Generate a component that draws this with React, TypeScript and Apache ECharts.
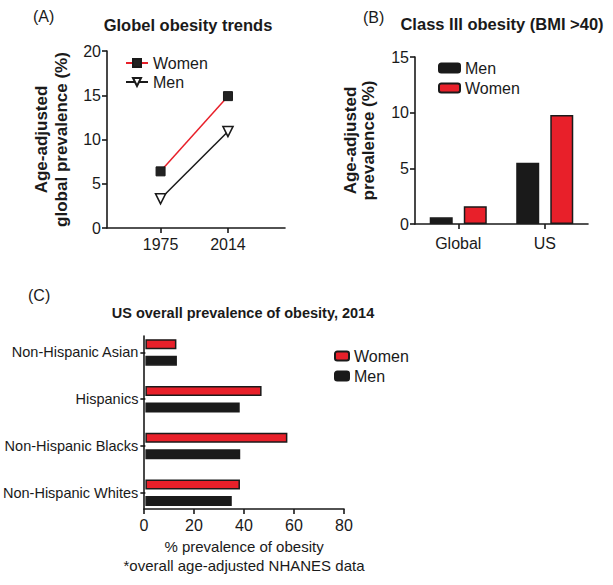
import React, { useEffect, useRef } from "react";
import * as echarts from "echarts";

// Panel A: global obesity trends
const yearsA = [1975, 2014];
const womenA = [6.4, 14.9];
const menA = [3.3, 10.9];
const ticksA = [1975, 2014];

// Panel B: class III obesity
const categoriesB = ["Global", "US"];
const menB = [0.6, 5.5];
const womenB = [1.6, 9.8];

// Panel C: US prevalence 2014
const categoriesC = ["Non-Hispanic Asian", "Hispanics", "Non-Hispanic Blacks", "Non-Hispanic Whites"];
const womenC = [12.5, 46.8, 57.2, 38.1];
const menC = [12.7, 38.0, 38.2, 34.8];

const RED = "#e8202a";
const INK = "#1a1a1a";
const FONT = "'Liberation Sans', Arial, Helvetica, sans-serif";

const axisLine = { show: true, lineStyle: { color: INK, width: 1.6 } };
const axisTick = { show: true, length: 5, lineStyle: { color: INK, width: 1.6 } };
const axisLabel = { color: INK, fontSize: 16, fontFamily: FONT, margin: 6 };

export default function App() {
  const ref = useRef<HTMLDivElement>(null);
  useEffect(() => {
    document.body.style.margin = "0";
    const chart = echarts.init(ref.current!, null, { renderer: "svg" });
    const fmt = (n: string) => n.split("|")[0];
    chart.setOption({
      animation: false,
      backgroundColor: "#fff",
      textStyle: { fontFamily: FONT },
      grid: [
        { left: 107, top: 51, width: 178, height: 177 },
        { left: 415, top: 57, width: 173, height: 167 },
        { left: 144, top: 329, width: 200, height: 187 },
        { left: 144, top: 336, width: 200, height: 173 },
      ],
      xAxis: [
        {
          gridIndex: 0, type: "value", min: 1944, max: 2047,
          axisLine, axisTick: { ...axisTick, customValues: ticksA },
          axisLabel: { ...axisLabel, margin: 8, customValues: ticksA, formatter: (v: number) => String(v) },
          splitLine: { show: false },
        },
        {
          gridIndex: 1, type: "category", data: categoriesB,
          axisLine, axisTick: { ...axisTick, alignWithLabel: true }, axisLabel: { ...axisLabel, margin: 11 },
        },
        { gridIndex: 2, type: "value", min: 0, max: 80, show: false },
        {
          gridIndex: 3, type: "value", min: 0, max: 80, interval: 20,
          axisLine, axisTick, axisLabel: { ...axisLabel, margin: 8 }, splitLine: { show: false },
          name: "% prevalence of obesity\n*overall age-adjusted NHANES data",
          nameLocation: "middle", nameGap: 28,
          nameTextStyle: { color: INK, fontSize: 15, fontFamily: FONT, lineHeight: 19, verticalAlign: "top" },
        },
      ],
      yAxis: [
        {
          gridIndex: 0, type: "value", min: 0, max: 20, interval: 5,
          axisLine, axisTick, axisLabel, splitLine: { show: false },
          name: "Age-adjusted\nglobal prevalence (%)", nameLocation: "middle", nameGap: 36,
          nameTextStyle: { color: INK, fontSize: 17, fontWeight: "bold", fontFamily: FONT, lineHeight: 20 },
        },
        {
          gridIndex: 1, type: "value", min: 0, max: 15, interval: 5,
          axisLine, axisTick, axisLabel, splitLine: { show: false },
          name: "Age-adjusted\nprevalence (%)", nameLocation: "middle", nameGap: 38,
          nameTextStyle: { color: INK, fontSize: 17, fontWeight: "bold", fontFamily: FONT, lineHeight: 18 },
        },
        {
          gridIndex: 2, type: "category", data: categoriesC, inverse: true,
          axisLine: { show: false }, axisTick: { ...axisTick, alignWithLabel: true },
          axisLabel: { ...axisLabel, fontSize: 14.5, margin: 7 },
        },
        {
          gridIndex: 3, type: "value", min: 0, max: 80,
          axisLine, axisTick: { show: false }, axisLabel: { show: false }, splitLine: { show: false },
        },
      ],
      legend: [
        {
          data: ["Women|A", "Men|A"], orient: "vertical", left: 120, top: 50,
          itemWidth: 22, itemHeight: 10, itemGap: 3, formatter: fmt,
          textStyle: { color: INK, fontSize: 16, fontFamily: FONT },
        },
        {
          data: ["Men|B", "Women|B"], orient: "vertical", left: 433, top: 55,
          itemWidth: 21, itemHeight: 9, itemGap: 4, formatter: fmt,
          textStyle: { color: INK, fontSize: 16, fontFamily: FONT },
        },
        {
          data: ["Women|C", "Men|C"], orient: "vertical", left: 329, top: 343,
          itemWidth: 14, itemHeight: 9, itemGap: 4, formatter: fmt,
          textStyle: { color: INK, fontSize: 16, fontFamily: FONT },
        },
      ],
      series: [
        {
          name: "Women|A", type: "line", xAxisIndex: 0, yAxisIndex: 0,
          data: yearsA.map((y, i) => [y, womenA[i]]),
          symbol: "rect", symbolSize: 9,
          lineStyle: { color: RED, width: 1.5 },
          itemStyle: { color: "#222", borderColor: INK, borderWidth: 1 },
          z: 3,
        },
        {
          name: "Men|A", type: "line", xAxisIndex: 0, yAxisIndex: 0,
          data: yearsA.map((y, i) => [y, menA[i]]),
          symbol: "triangle", symbolRotate: 180, symbolSize: 10,
          lineStyle: { color: INK, width: 1.5 },
          itemStyle: { color: "#fff", borderColor: INK, borderWidth: 1.6 },
          z: 3,
        },
        {
          name: "Men|B", type: "bar", xAxisIndex: 1, yAxisIndex: 1, data: menB,
          barWidth: 23, barGap: "48%",
          itemStyle: { color: INK, borderColor: INK, borderWidth: 1.5 },
        },
        {
          name: "Women|B", type: "bar", xAxisIndex: 1, yAxisIndex: 1, data: womenB,
          barWidth: 23, barGap: "48%",
          itemStyle: { color: RED, borderColor: INK, borderWidth: 1.5 },
        },
        {
          name: "Women|C", type: "bar", xAxisIndex: 2, yAxisIndex: 2, data: womenC,
          barWidth: 10, barGap: "65%",
          itemStyle: { color: RED, borderColor: INK, borderWidth: 1.5 },
        },
        {
          name: "Men|C", type: "bar", xAxisIndex: 2, yAxisIndex: 2, data: menC,
          barWidth: 10, barGap: "65%",
          itemStyle: { color: INK, borderColor: INK, borderWidth: 1.5 },
        },
      ],
      graphic: [
        { type: "text", x: 33, y: 16, style: { text: "(A)", font: `16px ${FONT}`, fill: INK, verticalAlign: "middle" } },
        { type: "text", x: 188, y: 25, style: { text: "Globel obesity trends", font: `bold 16.5px ${FONT}`, fill: INK, align: "center", verticalAlign: "middle" } },
        { type: "text", x: 363, y: 17, style: { text: "(B)", font: `16px ${FONT}`, fill: INK, verticalAlign: "middle" } },
        { type: "text", x: 502, y: 24, style: { text: "Class III obesity (BMI >40)", font: `bold 16.5px ${FONT}`, fill: INK, align: "center", verticalAlign: "middle" } },
        { type: "text", x: 28, y: 295, style: { text: "(C)", font: `16px ${FONT}`, fill: INK, verticalAlign: "middle" } },
        { type: "text", x: 243, y: 313, style: { text: "US overall prevalence of obesity, 2014", font: `bold 14.5px ${FONT}`, fill: INK, align: "center", verticalAlign: "middle" } },
      ],
    });
    return () => chart.dispose();
  }, []);
  return <div ref={ref} style={{ width: 613, height: 585 }} />;
}
